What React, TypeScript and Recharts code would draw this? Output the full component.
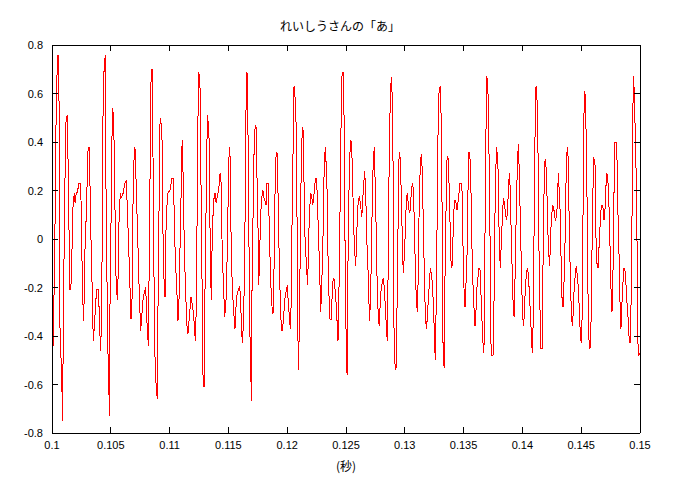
import React from 'react';
import { LineChart, Line, XAxis, YAxis } from 'recharts';

// waveform samples [seconds, amplitude] in ~4 ms stretches
const wave1: [number, number][] = [
  [0.1, -0.19], [0.10011, -0.44], [0.10028, 0.14], [0.10037, 0.62], [0.10051, 0.76], [0.1006, 0.56],
  [0.10065, -0.32], [0.10082, -0.57], [0.10091, -0.75], [0.10096, -0.32], [0.10108, 0.14], [0.10116, 0.47],
  [0.10128, 0.51], [0.10136, 0.34], [0.10142, 0.12], [0.10153, -0.21], [0.10159, -0.21], [0.10168, -0.13],
  [0.10173, 0.08], [0.10181, 0.15], [0.1019, 0.19], [0.10196, 0.15], [0.10204, 0.18], [0.10219, 0.2],
  [0.10227, 0.23], [0.10244, 0.23], [0.10247, 0.15], [0.10253, 0], [0.10258, -0.21], [0.1027, -0.34],
  [0.10278, -0.08], [0.10295, 0.15], [0.10304, 0.36], [0.10315, 0.38], [0.10323, 0.22], [0.10332, -0.01],
  [0.10343, -0.23], [0.10351, -0.42], [0.1036, -0.36], [0.10372, -0.26], [0.1038, -0.21], [0.10397, -0.21],
  [0.10402, -0.33],
];

const wave2: [number, number][] = [
  [0.10414, -0.46], [0.10423, -0.28], [0.10428, 0.12], [0.10436, 0.65], [0.10453, 0.76], [0.10459, 0.22],
  [0.1047, -0.28], [0.10479, -0.56], [0.10491, -0.73], [0.10493, -0.28], [0.10504, 0.15], [0.10513, 0.54],
  [0.10521, 0.52], [0.1053, 0.36], [0.10538, 0.03], [0.10544, -0.15], [0.10555, -0.25], [0.10564, -0.13],
  [0.1057, 0.08], [0.10581, 0.19], [0.10589, 0.17], [0.10598, 0.18], [0.10606, 0.19], [0.10618, 0.23],
  [0.10632, 0.24], [0.10638, 0.16], [0.10652, -0.03], [0.10663, -0.2], [0.10672, -0.33], [0.1068, -0.27],
  [0.10689, 0.15], [0.107, 0.38], [0.10708, 0.37], [0.10717, 0.2], [0.10731, -0.03], [0.10742, -0.22],
  [0.10754, -0.38], [0.10763, -0.32], [0.10776, -0.24], [0.10797, -0.2], [0.10805, -0.32], [0.10819, -0.44],
];

const wave3: [number, number][] = [
  [0.10831, 0.1], [0.10839, 0.57], [0.10844, 0.7], [0.10853, 0.7], [0.10861, 0.21], [0.1087, -0.3],
  [0.10878, -0.55], [0.10895, -0.66], [0.10901, -0.3], [0.1091, 0.12], [0.10916, 0.46], [0.10924, 0.5],
  [0.10938, 0.39], [0.10946, -0.11], [0.10961, -0.24], [0.10969, 0.03], [0.10978, 0.14], [0.10986, 0.19],
  [0.11003, 0.2], [0.1102, 0.25], [0.11029, 0.25], [0.11037, 0.15], [0.11048, -0.07], [0.11063, -0.23],
  [0.11071, -0.34], [0.1108, -0.25], [0.11088, -0.05], [0.11097, 0.17], [0.11103, 0.36], [0.11108, 0.41],
  [0.11117, 0.21], [0.11125, -0.04], [0.11137, -0.23], [0.11148, -0.36], [0.11156, -0.39], [0.11165, -0.34],
  [0.11182, -0.24], [0.11202, -0.3], [0.11219, -0.42], [0.11227, -0.28], [0.11233, 0.05],
];

const wave4: [number, number][] = [
  [0.11241, 0.49], [0.11247, 0.69], [0.11253, 0.67], [0.11259, 0.62], [0.11267, 0.23], [0.11276, -0.18],
  [0.11284, -0.56], [0.11293, -0.61], [0.11298, -0.32], [0.1131, 0.12], [0.11318, 0.41], [0.11324, 0.51],
  [0.11329, 0.47], [0.11338, 0.39], [0.11346, -0.1], [0.11355, -0.25], [0.11363, 0.03], [0.11375, 0.16],
  [0.11386, 0.19], [0.11395, 0.15], [0.11403, 0.17], [0.11412, 0.19], [0.11423, 0.23], [0.11429, 0.27],
  [0.11437, 0.24], [0.11446, -0.01], [0.11457, -0.18], [0.11469, -0.32], [0.1148, -0.25], [0.11488, -0.1],
  [0.11497, 0.14], [0.11503, 0.3], [0.11508, 0.38], [0.11514, 0.34], [0.11522, 0.03], [0.11531, -0.16],
  [0.11539, -0.25], [0.11548, -0.32], [0.11556, -0.37], [0.11567, -0.26], [0.11576, -0.22], [0.11593, -0.2],
  [0.11601, -0.22], [0.1161, -0.34], [0.11618, -0.43], [0.11627, -0.36], [0.11635, -0.19], [0.11644, 0.18],
  [0.1165, 0.54],
];

const wave5: [number, number][] = [
  [0.11658, 0.69], [0.11664, 0.54], [0.11673, 0.19], [0.11678, -0.3], [0.1169, -0.52], [0.11695, -0.67],
  [0.11701, -0.2], [0.11712, 0.18], [0.1172, 0.41], [0.11729, 0.47], [0.11735, 0.46], [0.11743, 0.26],
  [0.11752, 0.04], [0.11758, -0.19], [0.11766, -0.06], [0.11775, 0.11], [0.11786, 0.18], [0.11794, 0.2],
  [0.11803, 0.17], [0.1182, 0.14], [0.11828, 0.23], [0.11839, 0.23], [0.11851, -0.03], [0.11862, -0.2],
  [0.11871, -0.28], [0.11879, -0.31], [0.11888, -0.12], [0.11896, 0.18], [0.11905, 0.34], [0.11913, 0.36],
  [0.11922, 0.19], [0.1193, -0.03], [0.11939, -0.21], [0.11947, -0.33], [0.11956, -0.38], [0.11967, -0.34],
  [0.11979, -0.25], [0.12001, -0.19], [0.12009, -0.26], [0.12026, -0.37], [0.12035, -0.25], [0.12043, 0.16],
  [0.12052, 0.43], [0.12058, 0.63],
];

const wave6: [number, number][] = [
  [0.12066, 0.59], [0.12075, 0.48], [0.12083, 0.12], [0.12089, -0.25], [0.12094, -0.54], [0.121, -0.44],
  [0.12109, -0.12], [0.12117, 0.22], [0.12126, 0.42], [0.12134, 0.46], [0.12143, 0.23], [0.12151, 0.01],
  [0.12166, -0.13], [0.12174, -0.19], [0.12183, 0.01], [0.12191, 0.12], [0.122, 0.19], [0.12208, 0.18],
  [0.12217, 0.14], [0.12225, 0.17], [0.12236, 0.23], [0.12245, 0.25], [0.12253, 0.21], [0.12262, 0.08],
  [0.1227, -0.04], [0.12279, -0.19], [0.12285, -0.3], [0.12293, -0.2], [0.12304, -0.01], [0.1231, 0.21],
  [0.12319, 0.34], [0.12324, 0.38], [0.12332, 0.3], [0.12341, 0.17], [0.12347, -0.07], [0.12355, -0.23],
  [0.12364, -0.33], [0.12375, -0.33], [0.12384, -0.21], [0.12392, -0.16], [0.12401, -0.17], [0.12409, -0.22],
  [0.12418, -0.28], [0.12426, -0.36], [0.12432, -0.42], [0.1244, -0.22], [0.12449, 0.11], [0.12458, 0.47],
  [0.12466, 0.67], [0.12475, 0.69], [0.12483, 0.51],
];

const wave7: [number, number][] = [
  [0.12489, 0.2], [0.12494, -0.2], [0.12503, -0.45], [0.12509, -0.56], [0.12514, -0.21], [0.12523, 0.14],
  [0.12531, 0.33], [0.1254, 0.41], [0.12548, 0.39], [0.12557, 0.23], [0.12565, 0.05], [0.12574, -0.05],
  [0.12582, -0.11], [0.12591, -0.01], [0.12596, 0.1], [0.12605, 0.16], [0.12613, 0.17], [0.12622, 0.15],
  [0.12634, 0.09], [0.12642, 0.16], [0.12651, 0.23], [0.12659, 0.28], [0.12668, 0.18], [0.12676, 0.01],
  [0.12684, -0.1], [0.12693, -0.18], [0.12698, -0.34], [0.12707, -0.27], [0.12715, -0.09], [0.12724, 0.17],
  [0.12732, 0.33], [0.12741, 0.38], [0.12749, 0.21], [0.12758, 0.01], [0.12766, -0.22], [0.12775, -0.32],
  [0.12783, -0.36], [0.12792, -0.25], [0.128, -0.2], [0.12817, -0.16], [0.12826, -0.2], [0.12834, -0.28],
  [0.12843, -0.36], [0.12851, -0.42], [0.1286, -0.06], [0.12868, 0.37], [0.12877, 0.58], [0.12885, 0.67],
  [0.12894, 0.58], [0.129, 0.31], [0.12905, -0.06],
];

const wave8: [number, number][] = [
  [0.12908, -0.36], [0.12917, -0.52], [0.12925, -0.54], [0.12934, -0.28], [0.12942, 0.03], [0.12951, 0.34],
  [0.12957, 0.36], [0.12965, 0.28], [0.12974, 0.1], [0.12982, -0.06], [0.12987, -0.14], [0.12996, -0.07],
  [0.13004, 0.03], [0.13013, 0.16], [0.13021, 0.19], [0.1303, 0.14], [0.13038, 0.11], [0.13047, 0.12],
  [0.13055, 0.19], [0.13064, 0.23], [0.13072, 0.21], [0.13081, 0.07], [0.13089, -0.11], [0.13098, -0.25],
  [0.13106, -0.3], [0.13115, -0.14], [0.13123, 0.17], [0.13132, 0.3], [0.1314, 0.35], [0.13149, 0.28],
  [0.13157, 0.07], [0.13166, -0.14], [0.13174, -0.3], [0.13183, -0.37], [0.13191, -0.33], [0.132, -0.25],
  [0.13217, -0.12], [0.13225, -0.14], [0.13234, -0.18], [0.13242, -0.26], [0.13251, -0.38], [0.13259, -0.5],
  [0.13268, -0.24], [0.13276, 0.13], [0.13285, 0.55], [0.13293, 0.62], [0.13302, 0.63], [0.1331, 0.48],
  [0.13316, 0.21],
];

const wave9: [number, number][] = [
  [0.13319, -0.2], [0.13325, -0.43], [0.13334, -0.53], [0.13342, -0.15], [0.13351, 0.13], [0.13359, 0.33],
  [0.13367, 0.34], [0.13376, 0.23], [0.13384, 0.08], [0.13393, -0.09], [0.13401, -0.12], [0.1341, 0.01],
  [0.13418, 0.12], [0.13427, 0.16], [0.13435, 0.15], [0.13444, 0.12], [0.13452, 0.15], [0.13461, 0.19],
  [0.13469, 0.23], [0.13478, 0.23], [0.13486, 0.21], [0.13495, -0.03], [0.13503, -0.2], [0.13512, -0.28],
  [0.1352, -0.19], [0.13529, -0.07], [0.13537, 0.19], [0.13546, 0.36], [0.13554, 0.34], [0.13563, 0.19],
  [0.13571, -0.03], [0.1358, -0.19], [0.13588, -0.28], [0.13597, -0.36], [0.13605, -0.3], [0.13614, -0.2],
  [0.13622, -0.16], [0.13631, -0.12], [0.13639, -0.12], [0.13648, -0.23], [0.13656, -0.33], [0.13665, -0.43],
  [0.13673, -0.47], [0.13682, 0.02], [0.1369, 0.43], [0.13696, 0.67], [0.13705, 0.65], [0.1371, 0.55],
  [0.13718, 0.29], [0.13727, -0.09], [0.13734, -0.48],
];

const wave10: [number, number][] = [
  [0.1375, -0.48], [0.13758, -0.28], [0.13767, 0.1], [0.13775, 0.3], [0.13781, 0.38], [0.13787, 0.34],
  [0.13795, 0.27], [0.13803, -0.01], [0.13812, -0.12], [0.13821, -0.01], [0.13829, 0.08], [0.13838, 0.17],
  [0.13846, 0.15], [0.13855, 0.11], [0.13863, 0.08], [0.13872, 0.1], [0.1388, 0.19], [0.13889, 0.27],
  [0.13895, 0.22], [0.13903, 0.06], [0.13912, -0.11], [0.1392, -0.25], [0.13929, -0.32], [0.13937, -0.17],
  [0.13948, 0.12], [0.13957, 0.3], [0.13965, 0.39], [0.13974, 0.27], [0.13982, 0.08], [0.13991, -0.11],
  [0.13999, -0.28], [0.14008, -0.36], [0.14016, -0.32], [0.14025, -0.2], [0.14033, -0.15], [0.14042, -0.12],
  [0.1405, -0.14], [0.14059, -0.22], [0.14067, -0.3], [0.14076, -0.39], [0.14084, -0.47], [0.14093, -0.32],
  [0.14101, 0.14], [0.1411, 0.54], [0.14116, 0.63], [0.14124, 0.58], [0.14133, 0.35], [0.14141, -0.04],
  [0.1415, -0.3],
];

const wave11: [number, number][] = [
  [0.14158, -0.45], [0.14167, -0.45], [0.14175, -0.12], [0.14181, 0.12], [0.1419, 0.32], [0.14198, 0.33],
  [0.14207, 0.23], [0.14215, 0.05], [0.14224, -0.06], [0.14232, -0.11], [0.14241, 0.03], [0.14249, 0.1],
  [0.14258, 0.14], [0.14266, 0.13], [0.14275, 0.09], [0.14283, 0.08], [0.14292, 0.1], [0.143, 0.18],
  [0.14305, 0.27], [0.14314, 0.19], [0.14322, 0.1], [0.14331, -0.14], [0.14339, -0.28], [0.14348, -0.28],
  [0.14356, -0.14], [0.14365, 0.03], [0.14373, 0.3], [0.14382, 0.38], [0.1439, 0.33], [0.14399, 0.03],
  [0.14407, -0.14], [0.14416, -0.3], [0.14424, -0.36], [0.14433, -0.3], [0.14441, -0.19], [0.1445, -0.15],
  [0.14458, -0.11], [0.14467, -0.15], [0.14475, -0.2], [0.14484, -0.29], [0.14492, -0.39], [0.14501, -0.43],
  [0.14509, -0.3], [0.14518, 0.25], [0.14526, 0.61], [0.14535, 0.59], [0.14543, 0.41], [0.14552, 0.08],
  [0.1456, -0.33], [0.14569, -0.45],
];

const wave12: [number, number][] = [
  [0.14575, -0.45], [0.14583, -0.36], [0.14592, -0.04], [0.146, 0.2], [0.14606, 0.34], [0.14611, 0.32],
  [0.1462, 0.3], [0.14626, 0], [0.14634, -0.1], [0.14643, -0.12], [0.14651, -0.04], [0.1466, 0.05],
  [0.14668, 0.12], [0.14677, 0.14], [0.14685, 0.13], [0.14694, 0.08], [0.14702, 0.12], [0.14711, 0.22],
  [0.14719, 0.27], [0.14728, 0.23], [0.14736, 0.14], [0.14745, -0.03], [0.14753, -0.2], [0.14762, -0.3],
  [0.1477, -0.15], [0.14779, 0.19], [0.14787, 0.4], [0.14796, 0.4], [0.14804, 0.34], [0.14813, 0.1],
  [0.14821, -0.05], [0.1483, -0.26], [0.14838, -0.37], [0.14847, -0.26], [0.14855, -0.18], [0.14864, -0.12],
  [0.14872, -0.13], [0.14881, -0.19], [0.14889, -0.26], [0.14898, -0.32], [0.14906, -0.4], [0.14915, -0.43],
  [0.14923, -0.3], [0.14932, 0.09], [0.14938, 0.45], [0.14943, 0.67], [0.14951, 0.61], [0.1496, 0.43],
  [0.14968, 0.25], [0.14974, 0.03], [0.1498, -0.36], [0.14985, -0.48], [0.15, -0.47],
];

const xTicks = [0.1, 0.105, 0.11, 0.115, 0.12, 0.125, 0.13, 0.135, 0.14, 0.145, 0.15];
const yTicks = [-0.8, -0.6, -0.4, -0.2, 0, 0.2, 0.4, 0.6, 0.8];

const title = 'れいしうさんの「あ」';
const xLabel = '(秒)';

const data = [
  ...wave1, ...wave2, ...wave3, ...wave4, ...wave5, ...wave6,
  ...wave7, ...wave8, ...wave9, ...wave10, ...wave11, ...wave12,
].map(([t, v]) => ({ t, v }));

const FONT = '"Liberation Sans", Arial, sans-serif';
const TICK = 6;

const fmt = (v: number) => String(Number(v.toFixed(3)));

const BottomTick = (props: any) => {
  const { x, y, payload } = props;
  return (
    <g>
      <line x1={x} x2={x} y1={y} y2={y - TICK} stroke="#000" shapeRendering="crispEdges" />
      <text x={x} y={y + 16} textAnchor="middle" fontSize={11} fontFamily={FONT} fill="#000">
        {fmt(payload.value)}
      </text>
    </g>
  );
};

const TopTick = (props: any) => {
  const { x, y } = props;
  return <line x1={x} x2={x} y1={y} y2={y + TICK} stroke="#000" shapeRendering="crispEdges" />;
};

const LeftTick = (props: any) => {
  const { x, y, payload } = props;
  return (
    <g>
      <line x1={x} x2={x + TICK} y1={y} y2={y} stroke="#000" shapeRendering="crispEdges" />
      <text x={x - 9} y={y + 4} textAnchor="end" fontSize={11} fontFamily={FONT} fill="#000">
        {fmt(payload.value)}
      </text>
    </g>
  );
};

const RightTick = (props: any) => {
  const { x, y } = props;
  return <line x1={x} x2={x - TICK} y1={y} y2={y} stroke="#000" shapeRendering="crispEdges" />;
};

export default function App() {
  return (
    <div style={{ position: 'absolute', left: 0, top: 0, width: 674, height: 493, background: '#fff' }}>
      <div
        style={{
          position: 'absolute', left: 0, width: 680, top: 18, textAlign: 'center',
          fontFamily: '"Noto Sans CJK JP", sans-serif', fontSize: 12, lineHeight: '16px',
        }}
      >
        {title}
      </div>
      <LineChart width={674} height={493} data={data} margin={{ top: 0, right: 0, bottom: 0, left: 0 }}>
        <XAxis
          xAxisId="bottom" dataKey="t" type="number" domain={[0.1, 0.15]} ticks={xTicks}
          allowDataOverflow height={60} tickSize={0} tickMargin={0} tick={<BottomTick />}
          axisLine={{ stroke: '#000', shapeRendering: 'crispEdges' }} tickLine={false} interval={0}
        />
        <XAxis
          xAxisId="top" orientation="top" dataKey="t" type="number" domain={[0.1, 0.15]} ticks={xTicks}
          allowDataOverflow height={45} tickSize={0} tickMargin={0} tick={<TopTick />}
          axisLine={{ stroke: '#000', shapeRendering: 'crispEdges' }} tickLine={false} interval={0}
        />
        <YAxis
          yAxisId="left" type="number" domain={[-0.8, 0.8]} ticks={yTicks} allowDataOverflow
          width={52} tickSize={0} tickMargin={0} tick={<LeftTick />}
          axisLine={{ stroke: '#000', shapeRendering: 'crispEdges' }} tickLine={false} interval={0}
        />
        <YAxis
          yAxisId="right" orientation="right" type="number" domain={[-0.8, 0.8]} ticks={yTicks} allowDataOverflow
          width={34} tickSize={0} tickMargin={0} tick={<RightTick />}
          axisLine={{ stroke: '#000', shapeRendering: 'crispEdges' }} tickLine={false} interval={0}
        />
        <Line
          xAxisId="bottom" yAxisId="left" type="linear" dataKey="v" stroke="#ff0000" strokeWidth={1}
          dot={false} activeDot={false} isAnimationActive={false} shapeRendering="crispEdges"
        />
      </LineChart>
      <div
        style={{
          position: 'absolute', left: 0, width: 692, top: 458, textAlign: 'center',
          fontFamily: '"Noto Sans CJK JP", sans-serif', fontSize: 12, lineHeight: '16px',
        }}
      >
        {xLabel}
      </div>
    </div>
  );
}
